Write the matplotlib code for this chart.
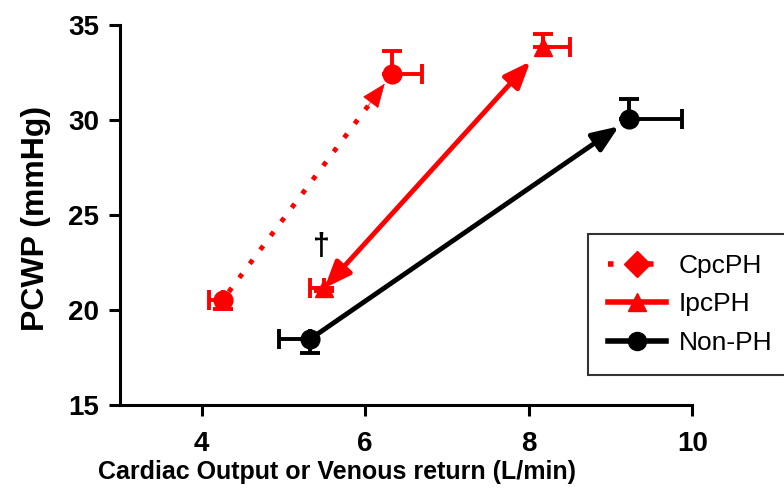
import numpy as np
import matplotlib
matplotlib.use("Agg")
import matplotlib.pyplot as plt
from matplotlib.lines import Line2D

plt.rcParams["font.family"] = ["Liberation Sans", "DejaVu Sans"]

groups = ["CpcPH", "IpcPH", "Non-PH"]
colors = ["#ff0000", "#ff0000", "#000000"]
markers = ["o", "^", "o"]
legend_markers = ["D", "^", "o"]
styles = [(0, (1, 2.6)), "-", "-"]

# baseline (rest) and peak values per group
co_base = [4.26, 5.50, 5.32]
pcwp_base = [20.55, 21.15, 18.45]
co_peak = [6.33, 8.18, 9.23]
pcwp_peak = [32.45, 33.85, 30.05]

# one-sided SEM: baseline errors point down/left, peak errors up/right
co_base_err = [0.17, 0.17, 0.38]
pcwp_base_err = [0.5, 0.15, 0.7]
co_peak_err = [0.36, 0.32, 0.65]
pcwp_peak_err = [1.2, 0.7, 1.05]

shrink_start = [7, 0, 7]
shrink_end = [9, 14, 9]

fig = plt.figure(figsize=(7.84, 4.95), dpi=100)
ax = fig.add_axes([0.153, 0.182, 0.730, 0.767])

head = "head_length=0.8,head_width=0.32"
for i, g in enumerate(groups):
    c = colors[i]
    ax.errorbar([co_base[i]], [pcwp_base[i]],
                xerr=[[co_base_err[i]], [0]], yerr=[[pcwp_base_err[i]], [0]],
                fmt=markers[i], color=c, ms=13.5, elinewidth=2.8, capsize=7,
                capthick=2.8, zorder=4)
    ax.errorbar([co_peak[i]], [pcwp_peak[i]],
                xerr=[[0], [co_peak_err[i]]], yerr=[[0], [pcwp_peak_err[i]]],
                fmt=markers[i], color=c, ms=13.5, elinewidth=2.8, capsize=7,
                capthick=2.8, zorder=4)

    start = (co_base[i], pcwp_base[i])
    end = (co_peak[i], pcwp_peak[i])
    if g == "CpcPH":
        # dotted shaft, then a solid head over the last stretch
        ax.annotate("", xy=end, xytext=start,
                    arrowprops=dict(arrowstyle="-", color=c, lw=3.5,
                                    linestyle=styles[i], capstyle="butt",
                                    shrinkA=shrink_start[i],
                                    shrinkB=shrink_end[i] + 12),
                    zorder=3)
        near = (end[0] - 0.15 * (end[0] - start[0]),
                end[1] - 0.15 * (end[1] - start[1]))
        ax.annotate("", xy=end, xytext=near,
                    arrowprops=dict(arrowstyle="-|>," + head, mutation_scale=20,
                                    color=c, lw=0.5, shrinkA=0,
                                    shrinkB=shrink_end[i]),
                    zorder=3)
    else:
        style = "<|-|>" if g == "IpcPH" else "-|>"
        ax.annotate("", xy=end, xytext=start,
                    arrowprops=dict(arrowstyle=style + "," + head,
                                    mutation_scale=20, color=c, lw=3.5,
                                    shrinkA=shrink_start[i],
                                    shrinkB=shrink_end[i]),
                    zorder=3)

ax.text(5.46, 23.3, "\u2020", fontsize=22, fontweight="bold",
        ha="center", va="center", color="black")

ax.set_xlim(3, 10)
ax.set_ylim(15, 35)
ax.set_xticks([4, 6, 8, 10])
ax.set_yticks([15, 20, 25, 30, 35])
for s in ["top", "right"]:
    ax.spines[s].set_visible(False)
for s in ["left", "bottom"]:
    ax.spines[s].set_linewidth(2.2)
ax.tick_params(width=2.2, length=8, labelsize=20)
ax.tick_params(axis="x", pad=11)
ax.tick_params(axis="y", pad=7)
for lab in ax.get_xticklabels() + ax.get_yticklabels():
    lab.set_fontweight("bold")

ax.set_xlabel("Cardiac Output or Venous return (L/min)", fontsize=18,
              fontweight="bold")
ax.xaxis.set_label_coords(0.38, -0.146)
ax.set_ylabel("PCWP (mmHg)", fontsize=23, fontweight="bold")
ax.yaxis.set_label_coords(-0.12, 0.49)

handles = [Line2D([0], [0], color=colors[i], ls=styles[i], lw=4,
                  marker=legend_markers[i], ms=13)
           for i in range(len(groups))]
leg = fig.legend(handles, groups, loc="upper left",
                 bbox_to_anchor=(588 / 784, 1 - 234 / 495),
                 fontsize=19, frameon=True, fancybox=False, edgecolor="black",
                 handlelength=2.2, borderpad=0.75, labelspacing=0.55,
                 handletextpad=0.5, borderaxespad=0)
leg.get_frame().set_linewidth(1.5)

fig.savefig("out.png", dpi=100)
